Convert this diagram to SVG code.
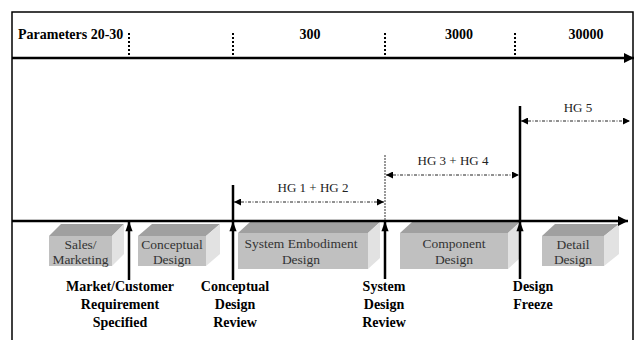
<svg xmlns="http://www.w3.org/2000/svg" width="637" height="340" viewBox="0 0 637 340">
<defs>
<style>
.hdr{font-family:"Liberation Serif","Times New Roman",serif;font-size:14px;font-weight:bold;fill:#000}
.ms{font-family:"Liberation Serif","Times New Roman",serif;font-size:14px;font-weight:bold;fill:#000;text-anchor:middle}
.bx{font-family:"Liberation Serif","Times New Roman",serif;font-size:13.5px;fill:#333;text-anchor:middle}
.hg{font-family:"Liberation Serif","Times New Roman",serif;font-size:13px;fill:#222;text-anchor:middle}
.front{fill:#c0c0c0}
.top{fill:#a0a0a0}
.side{fill:#e2e2e2}
.tick{stroke:#000;stroke-width:2;stroke-dasharray:2,2}
.thick{stroke:#000;stroke-width:2.5;fill:none}
.span{stroke:#222;stroke-width:1;stroke-dasharray:3,1.5,1,1.5;fill:none}
</style>
<marker id="bigArrow" viewBox="0 0 10 10" refX="10" refY="5" markerWidth="10" markerHeight="10" markerUnits="userSpaceOnUse" orient="auto"><path d="M0,0 L10,5 L0,10 z" fill="#000"/></marker>
<marker id="upArrow" viewBox="0 0 10 14" refX="13" refY="5" markerWidth="14" markerHeight="10" markerUnits="userSpaceOnUse" orient="auto"><path d="M0,0 L14,5 L0,10 z" fill="#000"/></marker>
<marker id="hgEnd" viewBox="0 0 8 8" refX="8" refY="4" markerWidth="8" markerHeight="7" markerUnits="userSpaceOnUse" orient="auto"><path d="M0,0 L8,4 L0,8 z" fill="#000"/></marker>
<marker id="hgStart" viewBox="0 0 8 8" refX="0" refY="4" markerWidth="8" markerHeight="7" markerUnits="userSpaceOnUse" orient="auto"><path d="M8,0 L0,4 L8,8 z" fill="#000"/></marker>
</defs>
<rect x="0" y="0" width="637" height="340" fill="#fff"/>
<!-- frame -->
<path d="M12,345 L12,12 L633,12 L633,345" fill="none" stroke="#000" stroke-width="1.5"/>
<!-- header -->
<g id="header">
<text class="hdr" x="18" y="39">Parameters 20-30</text>
<text class="hdr" x="310" y="39" text-anchor="middle">300</text>
<text class="hdr" x="459" y="39" text-anchor="middle">3000</text>
<text class="hdr" x="586" y="39" text-anchor="middle">30000</text>
<line class="tick" x1="129" y1="33" x2="129" y2="57"/>
<line class="tick" x1="233" y1="33" x2="233" y2="57"/>
<line class="tick" x1="385" y1="33" x2="385" y2="57"/>
<line class="tick" x1="515" y1="33" x2="515" y2="57"/>
</g>
<!-- boxes -->
<g id="sales">
<polygon class="top" points="49,236 61,224 124,224 112,236"/>
<polygon class="side" points="112,236 124,224 124,254 112,266"/>
<rect class="front" x="49" y="236" width="63" height="30"/>
<text class="bx" x="80.5" y="249">Sales/</text>
<text class="bx" x="80.5" y="264">Marketing</text>
</g>
<g id="conceptual">
<polygon class="top" points="138,236 152,224 220,224 206,236"/>
<polygon class="side" points="206,236 220,224 220,254 206,266"/>
<rect class="front" x="138" y="236" width="68" height="30"/>
<text class="bx" x="172" y="249">Conceptual</text>
<text class="bx" x="172" y="264">Design</text>
</g>
<g id="embodiment">
<polygon class="top" points="238,233 250,222 380,222 368,233"/>
<polygon class="side" points="368,233 380,222 380,258 368,269"/>
<rect class="front" x="238" y="233" width="130" height="36"/>
<text class="bx" x="301" y="248">System Embodiment</text>
<text class="bx" x="301" y="264">Design</text>
</g>
<g id="component">
<polygon class="top" points="400,233 412,222 520,222 508,233"/>
<polygon class="side" points="508,233 520,222 520,258 508,269"/>
<rect class="front" x="400" y="233" width="108" height="36"/>
<text class="bx" x="454" y="248">Component</text>
<text class="bx" x="454" y="264">Design</text>
</g>
<g id="detail">
<polygon class="top" points="542,236 555,224 619,224 604,236"/>
<polygon class="side" points="604,236 619,224 619,254 604,266"/>
<rect class="front" x="542" y="236" width="62" height="30"/>
<text class="bx" x="573" y="249">Detail</text>
<text class="bx" x="573" y="264">Design</text>
</g>
<!-- connectors -->
<g id="connectors">
<line x1="12" y1="58" x2="634" y2="58" stroke="#000" stroke-width="2.5" marker-end="url(#bigArrow)"/>
<line x1="12" y1="221" x2="628" y2="221" stroke="#000" stroke-width="2.5" marker-end="url(#bigArrow)"/>
<!-- milestone up arrows -->
<line class="thick" x1="129" y1="280" x2="129" y2="222" marker-end="url(#upArrow)"/>
<line class="thick" x1="233" y1="280" x2="233" y2="222" marker-end="url(#upArrow)"/>
<line class="thick" x1="385" y1="279" x2="385" y2="222" marker-end="url(#upArrow)"/>
<line class="thick" x1="520" y1="279" x2="520" y2="222" marker-end="url(#upArrow)"/>
<!-- gate lines above axis -->
<line x1="233" y1="185" x2="233" y2="221" stroke="#000" stroke-width="2.5"/>
<line x1="385" y1="155" x2="385" y2="221" stroke="#555" stroke-width="1.2" stroke-dasharray="2,1"/>
<line x1="520" y1="106" x2="520" y2="221" stroke="#000" stroke-width="2.5"/>
<!-- HG spans -->
<line class="span" x1="234" y1="202" x2="384" y2="202" marker-start="url(#hgStart)" marker-end="url(#hgEnd)"/>
<line class="span" x1="386" y1="175" x2="519" y2="175" marker-start="url(#hgStart)" marker-end="url(#hgEnd)"/>
<line class="span" x1="521" y1="121" x2="630" y2="121" marker-start="url(#hgStart)" marker-end="url(#hgEnd)"/>
</g>
<g id="hg-labels">
<text class="hg" x="313" y="192">HG 1 + HG 2</text>
<text class="hg" x="453" y="165">HG 3 + HG 4</text>
<text class="hg" x="578" y="112">HG 5</text>
</g>
<g id="milestones">
<text class="ms" x="120" y="291">Market/Customer</text>
<text class="ms" x="120" y="309">Requirement</text>
<text class="ms" x="120" y="327">Specified</text>
<text class="ms" x="235" y="291">Conceptual</text>
<text class="ms" x="235" y="309">Design</text>
<text class="ms" x="235" y="327">Review</text>
<text class="ms" x="384" y="291">System</text>
<text class="ms" x="384" y="309">Design</text>
<text class="ms" x="384" y="327">Review</text>
<text class="ms" x="533" y="291">Design</text>
<text class="ms" x="533" y="309">Freeze</text>
</g>
</svg>
